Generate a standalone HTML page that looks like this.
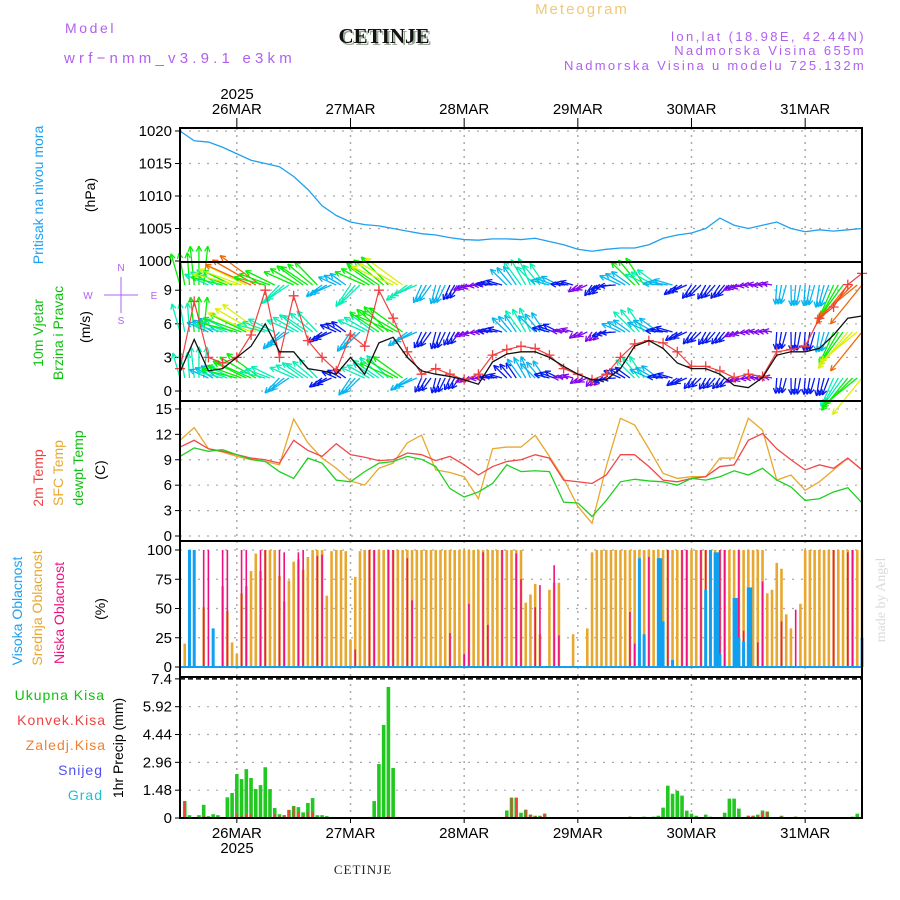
<!DOCTYPE html>
<html><head><meta charset="utf-8"><style>
html,body{margin:0;padding:0;background:#fff;}
svg{display:block;font-family:"Liberation Sans",sans-serif;}
</style></head><body>
<svg id="c" width="900" height="900" viewBox="0 0 900 900" xmlns="http://www.w3.org/2000/svg">
<text x="65" y="33" font-size="14" fill="#b060f0" letter-spacing="2.6">Model</text>
<text x="64" y="63" font-size="15" fill="#b060f0" letter-spacing="4.2">wrf−nmm_v3.9.1 e3km</text>
<text x="386" y="45" font-size="21" font-weight="bold" font-family="Liberation Serif,serif" text-anchor="middle" fill="#9a9">CETINJE</text>
<text x="384" y="43" font-size="21" font-weight="bold" font-family="Liberation Serif,serif" text-anchor="middle" fill="#111">CETINJE</text>
<text x="582" y="14" font-size="15" fill="#f0c878" text-anchor="middle" letter-spacing="2">Meteogram</text>
<text x="866" y="41" font-size="13" fill="#b060f0" text-anchor="end" letter-spacing="2.4">lon,lat (18.98E, 42.44N)</text>
<text x="866" y="55" font-size="13" fill="#b060f0" text-anchor="end" letter-spacing="2.4">Nadmorska Visina 655m</text>
<text x="866" y="70" font-size="13" fill="#b060f0" text-anchor="end" letter-spacing="2.3">Nadmorska Visina u modelu 725.132m</text>
<text x="237" y="99" font-size="15" text-anchor="middle">2025</text>
<text x="237" y="853" font-size="15" text-anchor="middle">2025</text>
<text x="363" y="874" font-size="13" font-family="Liberation Serif,serif" text-anchor="middle" letter-spacing="1" fill="#222">CETINJE</text>
<text transform="translate(885,600) rotate(-90)" font-size="14" font-family="Liberation Serif,serif" fill="#d8dcd8" text-anchor="middle">made by Angel</text>
<g font-size="14">
<text transform="translate(43,195) rotate(-90)" fill="#20a0f0" text-anchor="middle">Pritisak na nivou mora</text>
<text transform="translate(95,195) rotate(-90)" fill="#000" text-anchor="middle">(hPa)</text>
<text transform="translate(43,333) rotate(-90)" fill="#10c010" text-anchor="middle">10m Vjetar</text>
<text transform="translate(63,333) rotate(-90)" fill="#10c010" text-anchor="middle">Brzina i Pravac</text>
<text transform="translate(90,327) rotate(-90)" fill="#000" text-anchor="middle">(m/s)</text>
<text transform="translate(43,478) rotate(-90)" fill="#f04040" text-anchor="middle">2m Temp</text>
<text transform="translate(63,473) rotate(-90)" fill="#e8a830" text-anchor="middle">SFC Temp</text>
<text transform="translate(83,468) rotate(-90)" fill="#10c010" text-anchor="middle">dewpt Temp</text>
<text transform="translate(105,470) rotate(-90)" fill="#000" text-anchor="middle">(C)</text>
<text transform="translate(22,611) rotate(-90)" fill="#20a0f0" text-anchor="middle">Visoka Oblacnost</text>
<text transform="translate(42,608) rotate(-90)" fill="#e8a830" text-anchor="middle">Srednja Oblacnost</text>
<text transform="translate(64,613) rotate(-90)" fill="#f01080" text-anchor="middle">Niska Oblacnost</text>
<text transform="translate(105,609) rotate(-90)" fill="#000" text-anchor="middle">(%)</text>
<text x="105" y="700" fill="#10c010" text-anchor="end" letter-spacing="1">Ukupna  Kisa</text>
<text x="106" y="725" fill="#f04040" text-anchor="end" letter-spacing="1">Konvek.Kisa</text>
<text x="106" y="750" fill="#f08030" text-anchor="end" letter-spacing="1">Zaledj.Kisa</text>
<text x="103" y="775" fill="#5050f0" text-anchor="end" letter-spacing="1">Snijeg</text>
<text x="103" y="800" fill="#20c0d0" text-anchor="end" letter-spacing="1">Grad</text>
<text transform="translate(123,748) rotate(-90)" fill="#000" text-anchor="middle">1hr Precip (mm)</text>
</g>
<g fill="#b060f0" stroke="#b060f0" font-size="10">
<text x="121" y="271" text-anchor="middle" stroke="none">N</text>
<text x="121" y="324" text-anchor="middle" stroke="none">S</text>
<text x="88" y="299" text-anchor="middle" stroke="none">W</text>
<text x="154" y="299" text-anchor="middle" stroke="none">E</text>
<line x1="104" y1="295" x2="138" y2="295" stroke-width="1"/>
<line x1="121" y1="277" x2="121" y2="313" stroke-width="1"/>
</g>
<g id="plot"></g>
</svg>
<script>
// ---------- data ----------
const hours3 = [12,15,18,21,24,27,30,33,36,39,42,45,48,51,54,57,60,63,66,69,72,75,78,81,84,87,90,93,96,99,102,105,108,111,114,117,120,123,126,129,132,135,138,141,144,147,150,153,156];
const pressure = [1020,1018.5,1018.3,1017.5,1016.5,1015.5,1015,1014.5,1013,1011,1008.5,1007,1006,1005.6,1005.4,1005,1004.6,1004.2,1004,1003.6,1003.3,1003.2,1003.4,1003.4,1003.3,1003.5,1003,1002.5,1001.8,1001.5,1001.8,1002,1002,1002.5,1003.5,1004,1004.3,1005,1006.6,1005.5,1005,1005.5,1006,1005,1004.5,1004.8,1004.6,1004.8,1005];
const windSpeed = [1.7,4.6,1.8,2.0,3.0,4.0,6.0,3.5,3.5,2.0,1.8,1.5,3.0,1.5,4.3,4.8,3.0,1.8,1.5,1.3,1.0,0.6,2.6,3.3,3.5,3.5,3.0,2.2,1.5,1.0,1.0,2.0,4.0,4.5,3.8,2.5,2.0,2.0,1.5,0.5,0.3,1.2,3.2,3.5,3.5,3.8,5.0,6.5,6.7];
const windGust = [2,8,3,2.5,3,5,9,3,8.5,4.5,3,1.8,5,4,9,6.5,3.5,1.5,2,1.5,1.0,1.5,3.2,3.7,4,3.8,3.2,2.0,1.5,1.0,1.5,3,4.2,4.5,4.3,3.5,2.2,2.2,1.8,1.2,1.5,1.3,3.5,3.7,4,6.5,7.5,9.5,10.5];
const windDir = [350,0,300,290,290,300,290,230,300,310,240,300,220,300,310,300,240,210,200,210,250,270,280,320,330,320,290,280,240,220,260,300,320,300,280,240,220,215,220,250,270,275,190,185,190,195,210,225,225];
const arrowSpeed = [5,6,4,5,7,8,5,4,5,5,3,3,4,5,6,7,4,3,3,2.5,1.8,1.5,2.5,3.5,4.5,4,3,2,1.8,2,2.5,3.5,5,4,3,2.5,2.5,2.5,2.5,1.8,1.5,1.5,3,3.2,3.2,3.5,6,8,9];
const temp2m = [10.5,11.3,10.3,10.0,9.6,9.2,9.0,8.6,11.3,10.1,9.4,10.9,9.6,9.3,8.9,9.0,9.8,9.6,8.9,9.4,8.4,7.2,8.2,8.8,9.0,9.6,9.2,6.6,6.4,6.2,7.2,9.6,9.6,8.2,6.6,6.4,6.8,7.0,8.2,8.4,11.3,12.1,10.3,9.0,7.8,8.4,8.0,9.2,7.8];
const tempSfc = [11.3,12.8,10.3,9.9,9.4,9.0,8.8,8.4,13.8,11.0,9.2,8.0,6.5,6.0,8.0,8.6,11.0,11.9,7.8,7.5,7.0,4.4,10.3,10.5,10.5,11.9,9.4,6.8,3.5,1.5,8.2,13.9,13.1,10.3,7.4,6.8,7.0,7.0,9.2,9.2,13.9,12.5,6.6,7.2,5.4,6.4,7.8,9.2,7.8];
const dewpt = [9.4,10.4,10.0,10.2,9.6,9.05,8.8,7.6,6.8,9.2,8.6,6.6,6.4,7.6,8.6,8.8,9.4,9.05,8.2,5.6,4.6,5.2,6.2,8.4,7.6,7.7,7.6,4.0,3.9,2.3,4.2,6.4,6.7,6.5,6.4,6.0,6.8,6.6,7.0,7.7,7.2,8.0,6.6,5.8,4.2,4.4,5.2,5.7,3.9];
const midCloud = [0,20,0,0,0,51,0,0,0,69,48,21,11,63,69,82,97,82,100,100,100,78,56,74,90,92,83,94,100,100,100,61,99,100,100,99,23,77,99,
100,100,100,100,100,100,100,100,100,100,100,100,100,100,100,100,100,100,100,100,100,100,100,100,100,100,100,100,100,100,100,100,100,100,
55,62,71,28,0,66,72,72,0,0,28,0,0,33,98,
100,100,100,100,100,100,100,100,100,100,100,100,100,100,100,100,100,100,100,100,100,100,100,100,100,100,100,100,100,100,100,100,100,100,100,100,
63,66,89,84,45,33,0,54,100,100,100,100,100,100,100,100,100,100,100,100,100];
const lowHours = [14,17,18,21,22,25,26,29,30,33,34,37,38,41,42,49,52,53,56,57,60,61,69,72,73,76,77,80,83,84,87,88,91,92,107,108,111,115,118,119,122,123,126,127,130,131,134,135,139,142,150,153,154];
const lowVals = [83,100,100,100,100,100,100,100,100,100,98,98,100,95,96,15,100,100,100,100,93,57,29,11,54,98,36,100,97,75,51,70,87,27,47,20,94,100,100,100,100,100,100,100,100,31,21,73,39,49,100,98,100];
const highHours = [14,15,19,109,110,113,113.5,114,116,123,124,125,125.5,126,129,129.5,130,131,132,132.5,156];
const highVals = [100,100,33,93,28,93,93,39,6,66,100,98,98,11,59,59,25,22,68,68,25];
const precipHours = [13,14,16,17,18,19,20,21,22,23,24,25,26,27,28,29,30,31,32,33,34,35,36,37,38,39,40,41,42,43,44,53,54,55,56,57,81,82,83,84,85,86,87,88,89,107,110,112,113,114,115,116,117,118,119,120,121,123,124,127,128,129,130,132,133,134,135,136,139,140,142,154,155];
const precipTotal = [0.9,0.15,0.15,0.7,0.1,0.2,0.15,0.05,1.1,1.33,2.34,2.07,2.6,2.13,1.54,1.75,2.7,1.54,0.53,0.2,0.15,0.43,0.64,0.58,0.3,0.8,1.06,0.15,0.15,0.1,0.05,0.9,2.87,4.95,6.97,2.66,0.4,1.08,1.08,0.28,0.44,0.18,0.12,0.12,0.23,0.07,0.07,0.07,0.12,0.55,1.72,1.29,1.45,1.19,0.39,0.23,0.12,0.18,0.07,0.28,1.03,1.03,0.5,0.12,0.12,0.18,0.4,0.34,0.12,0.03,0.07,0.07,0.23];
const precipConv = [0.9,0.05,0.05,0.1,0,0,0,0,0.05,0,0.2,0.1,0.2,0.2,0,0,0,0,0.2,0.1,0.15,0.43,0.6,0.3,0.1,0.3,0.3,0,0,0,0.03,0,0,0,0.1,0,0.1,1.08,1.08,0.05,0.44,0.18,0.1,0.1,0.23,0.07,0,0,0,0,0,0,0,0,0,0,0,0,0,0,0,0,0,0.12,0.12,0.1,0.3,0.34,0.1,0.03,0.07,0,0];
const dayHours = [24,48,72,96,120,144];
const dayLabels = ['26MAR','27MAR','28MAR','29MAR','30MAR','31MAR'];
const pTicks = [1000,1005,1010,1015,1020];
const wTicks = [0,3,6,9];
const tTicks = [0,3,6,9,12,15];
const cTicks = [0,25,50,75,100];
const rTicks = [0,1.48,2.96,4.44,5.92,7.4];

// ---------- scales ----------
const X0=180, X1=862;
const X = h => X0 + (h-12)*(X1-X0)/144;
const Yp = v => 131 + (1020-v)*6.5;
const Yw = v => 391 - v*11.2;
const Yt = v => 536 - v*8.47;
const Yc = v => 667 - v*1.17;
const Yr = v => 818 - v*18.8;
const panels = [[128,262,pTicks,Yp,'pressure'],[262,401,wTicks,Yw,'wind'],[401,541,tTicks,Yt,'temp'],[541,677,cTicks,Yc,'cloud'],[677,818,rTicks,Yr,'precip']];

const NS='http://www.w3.org/2000/svg';
const plot=document.getElementById('plot');
function mk(tag, attrs, parent){const e=document.createElementNS(NS,tag);for(const k in attrs)e.setAttribute(k,attrs[k]);(parent||plot).appendChild(e);return e;}

// grid + ticks
panels.forEach(p=>{
  const [t,b,ticks,Y,name]=p;
  const g=mk('g',{});
  
  
  ticks.forEach(v=>{
    const y=Y(v);
    if(y>t+2 && y<b-1){
      const l=mk('line',{x1:X0,x2:X1,y1:y,y2:y,stroke:'#aaa','stroke-dasharray':'2,7','stroke-width':1.2},g);
      
      
    }
    const tk=mk('line',{x1:X0-5,x2:X0,y1:y,y2:y,stroke:'#000','stroke-width':1},g);
    
    
    const tx=mk('text',{x:X0-8,y:y+5,'font-size':15,'text-anchor':'end'},g);
    tx.textContent = String(v);
    
    
  });
  dayHours.forEach(h=>{
    const l=mk('line',{x1:X(h),x2:X(h),y1:t,y2:b,stroke:'#aaa','stroke-dasharray':'2,5','stroke-width':1.5},g);
    
    
  });
});
const dl=mk('line',{x1:X0,x2:X1,y1:Yr(7.4),y2:Yr(7.4),stroke:'#000','stroke-dasharray':'5,3','stroke-width':1.5});



// pressure line
const pl=mk('polyline',{points:hours3.map((h,i)=>X(h)+','+Yp(pressure[i])).join(' '),fill:'none',stroke:'#20a0f0','stroke-width':1.3});



// wind arrows (drawn each hour within each 3h data step)
const rowBase=[285,332,378], rowMul=[1.0,0.9,0.8];
function hueFor(s){ if(s<2) return 272; if(s<3) return 235; if(s<4) return 195; if(s<5) return 165; if(s<6.5) return 120; if(s<7.5) return 65; return 25; }
rowBase.forEach((yb,r)=>{
  hours3.forEach((h,i)=>{
    const s=arrowSpeed[i]*rowMul[r];
    const len=Math.min(50,s*6.5);
    const col='hsl('+hueFor(s)+',95%,48%)';
    const g=mk('g',{stroke:col,'stroke-width':1.3,fill:'none'});
    
    
    const reps = (i===hours3.length-1)?1:3;
    for(let k=0;k<reps;k++){
      const a=(windDir[i]+(k-1)*6)*Math.PI/180;
      const x1=X(h+k), y1=yb, x2=x1+Math.sin(a)*len, y2=y1-Math.cos(a)*len;
      mk('line',{x1:x1,y1:y1,x2:x2,y2:y2},g);
      const ha=6, sp=0.45;
      [a+Math.PI-sp,a+Math.PI+sp].forEach(b=>{
        mk('line',{x1:x2,y1:y2,x2:x2+Math.sin(b)*ha,y2:y2-Math.cos(b)*ha},g);
      });
    }
  });
});
const gl=mk('polyline',{points:hours3.map((h,i)=>X(h)+','+Yw(windGust[i])).join(' '),fill:'none',stroke:'#f04040','stroke-width':1.2});


hours3.forEach((h,i)=>{
  const x=X(h), y=Yw(windGust[i]);
  const c=mk('path',{d:'M'+(x-5)+' '+y+'H'+(x+5)+'M'+x+' '+(y-5)+'V'+(y+5),stroke:'#f04040','stroke-width':1.3});
  
  
});
const sl=mk('polyline',{points:hours3.map((h,i)=>X(h)+','+Yw(windSpeed[i])).join(' '),fill:'none',stroke:'#111','stroke-width':1.3});



// temperature lines
[[tempSfc,'#e8a830','sfc-temp-line'],[temp2m,'#f04848','temp-2m-line'],[dewpt,'#20d020','dewpt-line']].forEach(s=>{
  const l=mk('polyline',{points:hours3.map((h,i)=>X(h)+','+Yt(s[0][i])).join(' '),fill:'none',stroke:s[1],'stroke-width':1.3});
  
  
});

// cloud bars
const base=Yc(0);
midCloud.forEach((v,i)=>{
  if(v<=0) return;
  const h=12+i;
  const b=mk('rect',{x:X(h)-1.3,y:Yc(v),width:2.6,height:base-Yc(v),fill:'#e8a830'});
  
  
});
lowHours.forEach((h,i)=>{
  const v=lowVals[i];
  const b=mk('rect',{x:X(h)-0.8,y:Yc(v),width:1.6,height:base-Yc(v),fill:'#f01080'});
  
  
});
highHours.forEach((h,i)=>{
  const v=highVals[i];
  const b=mk('rect',{x:X(h)-1.5,y:Yc(v),width:3,height:base-Yc(v),fill:'#10a0f0'});
  
  
});
const cb=mk('line',{x1:X0,x2:X1,y1:base,y2:base,stroke:'#10a0f0','stroke-width':2});



// precip bars
precipHours.forEach((h,i)=>{
  const v=precipTotal[i];
  const b=mk('rect',{x:X(h)-1.8,y:Yr(v),width:3.6,height:Yr(0)-Yr(v),fill:'#20c820'});
  
  
  const c=precipConv[i];
  if(c>0){
    const r=mk('rect',{x:X(h)-1,y:Yr(c),width:2,height:Yr(0)-Yr(c),fill:'#f04040'});
    
    
  }
});

// frames
panels.forEach(p=>{
  const f=mk('rect',{x:X0,y:p[0],width:X1-X0,height:p[1]-p[0],fill:'none',stroke:'#000','stroke-width':2});
  
  
});

// day labels
dayHours.forEach((h,i)=>{
  const x=X(h);
  const t1=mk('text',{x:x,y:114,'font-size':15,'text-anchor':'middle'});
  t1.textContent=dayLabels[i];
  
  
  const t2=mk('text',{x:x,y:838,'font-size':15,'text-anchor':'middle'});
  t2.textContent=dayLabels[i];
  
  
  const k1=mk('line',{x1:x,x2:x,y1:118,y2:128,stroke:'#000'});
  
  
  const k2=mk('line',{x1:x,x2:x,y1:818,y2:823,stroke:'#000'});
  
  
});
</script>
</body></html>
